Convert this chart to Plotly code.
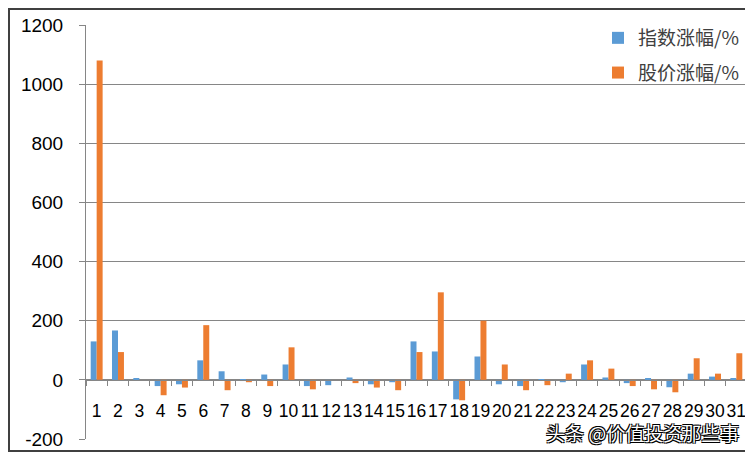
import plotly.graph_objects as go

categories = [str(i) for i in range(1, 32)]
index_change = [130, 167, 4, -21, -15, 66, 29, -4, 18, 52,
                -21, -18, 8, -15, -8, 130, 96, -66, 79, -15,
                -21, -1, -8, 52, 8, -11, 3, -25, 21, 11, 3]
stock_change = [1080, 94, 0, -52, -26, 185, -35, -8, -21, 110,
                -32, 0, -11, -26, -35, 94, 296, -69, 200, 52,
                -35, -18, 21, 66, 38, -21, -32, -42, 73, 21, 90]
series_names = ["指数涨幅/%", "股价涨幅/%"]
y_ticks = [-200, 0, 200, 400, 600, 800, 1000, 1200]
y_tick_labels = [str(v) for v in y_ticks]

# page body has an 8px margin, so the figure is sized to fit inside the window
OFF = 8
W, H = 753 - OFF, 453 - OFF
L, R, T, B = 86 - OFF, 6, 25 - OFF, 14
pw, ph = W - L - R, H - T - B

def px_x(page_x):
    return (page_x - OFF - L) / pw

def px_y(page_y):
    return (H - B - (page_y - OFF)) / ph

fig = go.Figure()
fig.add_trace(go.Bar(x=categories, y=index_change, name=series_names[0],
                     marker=dict(color="#5B9BD5", line=dict(width=0)), legendgroup="a"))
fig.add_trace(go.Bar(x=categories, y=stock_change, name=series_names[1],
                     marker=dict(color="#ED7D31", line=dict(width=0)), legendgroup="b"))

zero_pos = (0 - (-200)) / 1400

fig.update_layout(
    width=W, height=H,
    margin=dict(l=L, r=R, t=T, b=B, autoexpand=False),
    paper_bgcolor="white", plot_bgcolor="white",
    barmode="group", bargap=0.44, bargroupgap=0,
    font=dict(family="Liberation Sans, Arial, sans-serif", size=19, color="#000000"),
    showlegend=True,
    legend=dict(x=px_x(598), xanchor="left", y=px_y(19), yanchor="top",
                bgcolor="rgba(0,0,0,0)", traceorder="grouped", tracegroupgap=7,
                font=dict(family="Noto Sans CJK SC, sans-serif", size=19, color="#404040"),
                itemwidth=30),
    xaxis=dict(type="category", anchor="free", position=zero_pos, automargin=False,
               tickmode="linear", dtick=1, tickangle=0,
               showline=True, linecolor="#868686", linewidth=1,
               ticks="outside", tickson="boundaries", ticklen=5, tickcolor="#868686",
               ticklabelstandoff=15, showgrid=False,
               tickfont=dict(family="Liberation Sans, sans-serif", size=17.5, color="#000000")),
    yaxis=dict(range=[-200, 1200], tickmode="array", tickvals=y_ticks, ticktext=y_tick_labels,
               showgrid=True, automargin=False,
               gridcolor="#868686", gridwidth=1, zeroline=False,
               showline=True, linecolor="#868686", linewidth=1,
               ticks="outside", ticklen=6, tickcolor="#868686",
               ticklabelstandoff=12,
               tickfont=dict(size=19, color="#000000")),
)

fig.add_shape(type="rect", xref="paper", yref="paper",
              x0=(1 - L) / pw, x1=(W - 2 - L) / pw,
              y0=(H - B - (H - 2)) / ph, y1=(H - B - 1) / ph,
              line=dict(color="#404040", width=2), fillcolor="rgba(0,0,0,0)", layer="above")

fig.add_annotation(text="头条 @价值投资那些事", xref="paper", yref="paper",
                   x=px_x(642), y=px_y(432), xanchor="center", yanchor="middle",
                   showarrow=False,
                   font=dict(family="Noto Sans CJK SC, sans-serif", size=19, color="white",
                             shadow="1px 1px 0 #000, -1px -1px 0 #000, 1px -1px 0 #000, -1px 1px 0 #000"))

fig.write_html("out.html")
